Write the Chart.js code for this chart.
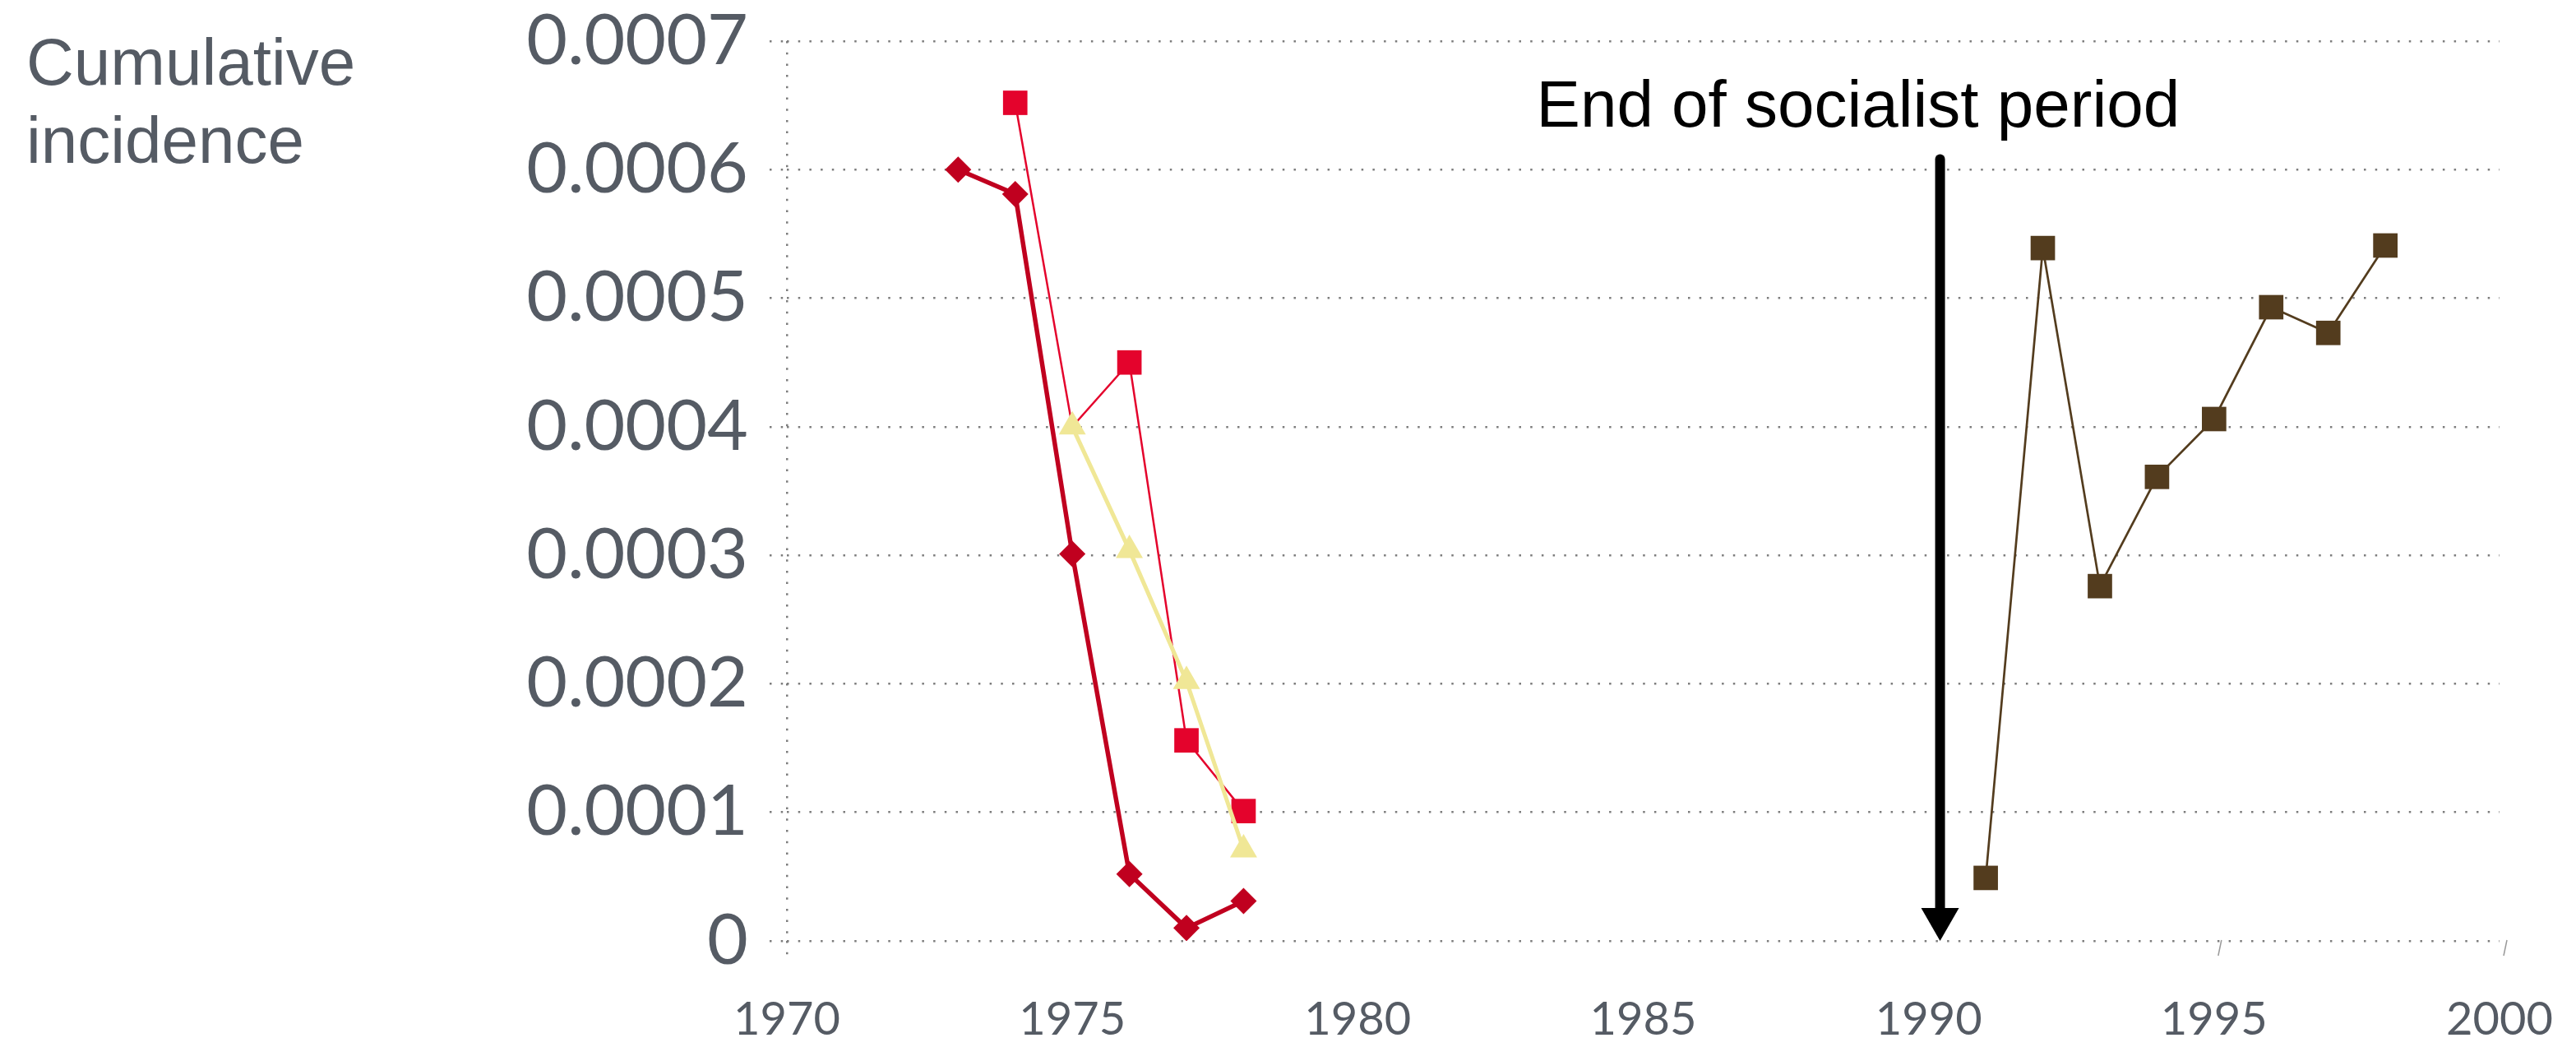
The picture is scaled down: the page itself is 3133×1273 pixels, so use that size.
<!DOCTYPE html>
<html>
<head>
<meta charset="utf-8">
<script src="https://cdn.jsdelivr.net/npm/chart.js@4.4.1/dist/chart.umd.min.js"></script>
<style>
  html, body { margin: 0; padding: 0; background: #fff; }
  #wrap { width: 3133px; height: 1273px; }
</style>
</head>
<body>
<div id="wrap"><canvas id="incidenceChart" width="3133" height="1273"></canvas></div>
<script>
// Data
const yearsEarly = [1973, 1974, 1975, 1976, 1977, 1978];
const diamondSeries = [0.000600, 0.000581, 0.000301, 0.000052, 0.000010, 0.000031];
const squareYears = [1974, 1975, 1976, 1977, 1978];
const squareSeries = [0.000652, 0.000400, 0.000450, 0.000156, 0.000101];
const triangleYears = [1975, 1976, 1977, 1978];
const triangleSeries = [0.000400, 0.000304, 0.000202, 0.000071];
const yearsLate = [1991, 1992, 1993, 1994, 1995, 1996, 1997, 1998];
const brownSeries = [0.000049, 0.000539, 0.000276, 0.000361, 0.000406, 0.000493, 0.000473, 0.000541];

const xTickYears = [1970, 1975, 1980, 1985, 1990, 1995, 2000];
const yTickLabels = ['0', '0.0001', '0.0002', '0.0003', '0.0004', '0.0005', '0.0006', '0.0007'];

const arrowYear = 1990.2;
const arrowTop = 0.000612;
const arrowLabel = 'End of socialist period';
const yTitle = ['Cumulative', 'incidence'];

const textGrey = '#555b64';
const gridGrey = '#7d7d7d';

function pairs(xs, ys) {
  return xs.map((x, i) => ({ x: x, y: ys[i] }));
}

// title, arrow and the little slanted marks
const annotations = {
  id: 'annotations',
  afterDraw(chart) {
    const { ctx, scales: { x, y } } = chart;
    ctx.save();

    ctx.fillStyle = textGrey;
    ctx.font = '80px "Liberation Sans", Arial, sans-serif';
    ctx.textAlign = 'left';
    ctx.textBaseline = 'alphabetic';
    ctx.fillText(yTitle[0], 32, 103);
    ctx.fillText(yTitle[1], 32, 198);

    const ax = x.getPixelForValue(arrowYear);
    const top = y.getPixelForValue(arrowTop);
    const tip = y.getPixelForValue(0);
    const headH = 40, headW = 46;

    ctx.strokeStyle = '#000';
    ctx.lineWidth = 12;
    ctx.lineCap = 'round';
    ctx.beginPath();
    ctx.moveTo(ax, top + 6);
    ctx.lineTo(ax, tip - headH + 2);
    ctx.stroke();
    ctx.fillStyle = '#000';
    ctx.beginPath();
    ctx.moveTo(ax - headW / 2, tip - headH);
    ctx.lineTo(ax + headW / 2, tip - headH);
    ctx.lineTo(ax, tip);
    ctx.closePath();
    ctx.fill();

    ctx.font = '80px "Liberation Sans", Arial, sans-serif';
    ctx.fillText(arrowLabel, ax - 491, 154);

    ctx.strokeStyle = '#999';
    ctx.lineWidth = 1.5;
    ctx.lineCap = 'butt';
    [1995, 2000].forEach(v => {
      const px = x.getPixelForValue(v) + 6;
      ctx.beginPath();
      ctx.moveTo(px + 3, tip - 1);
      ctx.lineTo(px - 1, tip + 18);
      ctx.stroke();
    });
    ctx.restore();
  }
};

const ctx = document.getElementById('incidenceChart').getContext('2d');

new Chart(ctx, {
  type: 'line',
  data: {
    datasets: [
      {
        data: pairs(yearsEarly, diamondSeries),
        borderColor: '#c0001f',
        backgroundColor: '#c0001f',
        borderWidth: 5.5,
        pointStyle: 'rectRot',
        pointRadius: 16,
        pointBorderWidth: 0,
        order: 0
      },
      {
        data: pairs(triangleYears, triangleSeries),
        borderColor: '#f0e796',
        backgroundColor: '#f0e796',
        borderWidth: 5,
        pointStyle: 'triangle',
        pointRadius: 19,
        pointBorderWidth: 0,
        order: 1
      },
      {
        data: pairs(squareYears, squareSeries),
        borderColor: '#e4032c',
        backgroundColor: '#e4032c',
        borderWidth: 2.5,
        pointStyle: 'rect',
        // the 1975 point has no visible marker in the original
        pointRadius: c => (c.raw && c.raw.x === 1975 ? 0 : 21),
        pointBorderWidth: 0,
        order: 2
      },
      {
        data: pairs(yearsLate, brownSeries),
        borderColor: '#533c1e',
        backgroundColor: '#533c1e',
        borderWidth: 2.7,
        pointStyle: 'rect',
        pointRadius: 21,
        pointBorderWidth: 0,
        order: 3
      }
    ]
  },
  options: {
    responsive: false,
    animation: false,
    layout: { autoPadding: false, padding: { left: 0, right: 93, top: 50, bottom: 0 } },
    plugins: { legend: { display: false }, tooltip: { enabled: false } },
    scales: {
      x: {
        type: 'linear',
        min: 1970,
        max: 2000,
        afterBuildTicks: scale => { scale.ticks = xTickYears.map(v => ({ value: v })); },
        afterFit: scale => {
          scale.height = 129;
          scale.paddingLeft = 0;
          scale.paddingRight = 0;
        },
        ticks: {
          color: textGrey,
          font: { family: 'Lato, "Noto Sans", sans-serif', size: 56, weight: 400 },
          padding: 44,
          maxRotation: 0,
          autoSkip: false,
          callback: v => String(v)
        },
        grid: {
          color: c => (c.tick && c.tick.value === 1970 ? gridGrey : 'rgba(0,0,0,0)'),
          lineWidth: 2.5,
          tickLength: 18,
          tickBorderDash: [2.5, 11.2]
        },
        border: { display: false, dash: [2.5, 11.2] }
      },
      y: {
        min: 0,
        max: 0.0007,
        afterBuildTicks: scale => { scale.ticks = yTickLabels.map(t => ({ value: parseFloat(t) })); },
        afterFit: scale => {
          scale.width = 957;
          scale.paddingTop = 0;
          scale.paddingBottom = 0;
        },
        ticks: {
          color: textGrey,
          font: { family: 'Lato, "Noto Sans", sans-serif', size: 86, weight: 400, lineHeight: 1.16 },
          padding: 26,
          callback: (v, i) => yTickLabels[i]
        },
        grid: {
          color: gridGrey,
          lineWidth: 2.5,
          tickLength: 21,
          tickBorderDash: [2.5, 11.2]
        },
        border: { display: false, dash: [2.5, 11.2] }
      }
    }
  },
  plugins: [annotations]
});
</script>
</body>
</html>
